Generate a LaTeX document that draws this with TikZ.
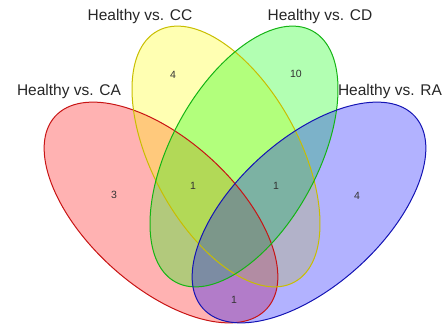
\documentclass[tikz,border=0pt]{standalone}
\usepackage{fontspec}
\setmainfont{Liberation Sans}
\definecolor{cafill}{RGB}{255,0,0}
\definecolor{ccfill}{RGB}{255,255,0}
\definecolor{cdfill}{RGB}{0,255,0}
\definecolor{rafill}{RGB}{0,0,255}
\definecolor{caline}{RGB}{200,20,20}
\definecolor{ccline}{RGB}{200,190,0}
\definecolor{cdline}{RGB}{20,180,20}
\definecolor{raline}{RGB}{20,20,180}
\begin{document}
\begin{tikzpicture}[x=1pt,y=-1pt,
  setfill/.style={fill=#1, fill opacity=0.3, draw=none},
  setline/.style={draw=#1, line width=1pt},
  setlabel/.style={font=\fontsize{15.5}{18}\selectfont, text=black!85, inner sep=0pt},
  countlabel/.style={font=\fontsize{10.5}{12}\selectfont, text=black!80, inner sep=0pt}]
\useasboundingbox (0,0) rectangle (448,326);
% fills
\fill[setfill=cafill, shift={(161,212.5)}, rotate=-42.2] (0,0) ellipse [x radius=143pt, y radius=73.4pt];
\fill[setfill=ccfill, shift={(226,156.5)}, rotate=-61.4] (0,0) ellipse [x radius=143pt, y radius=73.4pt];
\fill[setfill=cdfill, shift={(244,156.5)}, rotate=61.4] (0,0) ellipse [x radius=143pt, y radius=73.4pt];
\fill[setfill=rafill, shift={(309,212.5)}, rotate=42.2] (0,0) ellipse [x radius=143pt, y radius=73.4pt];
% outlines
\draw[setline=caline, shift={(161,212.5)}, rotate=-42.2] (0,0) ellipse [x radius=143pt, y radius=73.4pt];
\draw[setline=ccline, shift={(226,156.5)}, rotate=-61.4] (0,0) ellipse [x radius=143pt, y radius=73.4pt];
\draw[setline=cdline, shift={(244,156.5)}, rotate=61.4] (0,0) ellipse [x radius=143pt, y radius=73.4pt];
\draw[setline=raline, shift={(309,212.5)}, rotate=42.2] (0,0) ellipse [x radius=143pt, y radius=73.4pt];
% set labels
\node[setlabel] (lca) at (69,91) {Healthy vs. CA};
\node[setlabel] (lcc) at (140,16) {Healthy vs. CC};
\node[setlabel] (lcd) at (320,16) {Healthy vs. CD};
\node[setlabel] (lra) at (390,91) {Healthy vs. RA};
% counts
\node[countlabel] (ncc) at (173,75) {4};
\node[countlabel] (ncd) at (296,74) {10};
\node[countlabel] (nca) at (114,195) {3};
\node[countlabel] (ncaccd) at (193,186) {1};
\node[countlabel] (nccdra) at (276,186) {1};
\node[countlabel] (nra) at (357,196) {4};
\node[countlabel] (ncara) at (234,300) {1};
\end{tikzpicture}
\end{document}
